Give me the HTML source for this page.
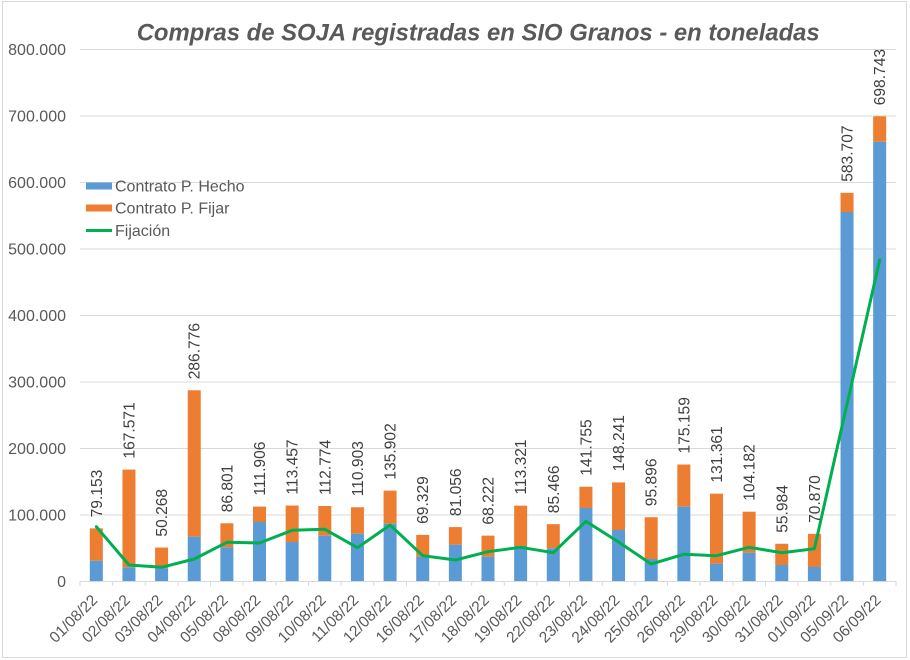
<!DOCTYPE html>
<html><head><meta charset="utf-8"><style>
html,body{margin:0;padding:0;background:#fff;}
svg{display:block;}
text{font-family:"Liberation Sans",Arial,sans-serif;}
</style></head><body>
<svg width="910" height="660" viewBox="0 0 910 660" xmlns="http://www.w3.org/2000/svg">
<rect x="0" y="0" width="910" height="660" fill="#fff"/>
<rect x="2.5" y="1.5" width="904" height="656" fill="#fff" stroke="#d9d9d9" stroke-width="1"/>
<text x="136.7" y="40.7" font-size="24" font-weight="bold" font-style="italic" fill="#595959" textLength="683" lengthAdjust="spacingAndGlyphs">Compras de SOJA registradas en SIO Granos - en toneladas</text>
<g stroke="#d9d9d9" stroke-width="1">
<line x1="80" y1="49.5" x2="896" y2="49.5"/>
<line x1="80" y1="116" x2="896" y2="116"/>
<line x1="80" y1="182.5" x2="896" y2="182.5"/>
<line x1="80" y1="249" x2="896" y2="249"/>
<line x1="80" y1="315.5" x2="896" y2="315.5"/>
<line x1="80" y1="382" x2="896" y2="382"/>
<line x1="80" y1="448.5" x2="896" y2="448.5"/>
<line x1="80" y1="515" x2="896" y2="515"/>
<line x1="80" y1="581.5" x2="896" y2="581.5"/>
</g>
<g stroke="#d9d9d9" stroke-width="1">
<line x1="80" y1="581" x2="80" y2="586"/><line x1="112.64" y1="581" x2="112.64" y2="586"/><line x1="145.28" y1="581" x2="145.28" y2="586"/><line x1="177.92" y1="581" x2="177.92" y2="586"/><line x1="210.56" y1="581" x2="210.56" y2="586"/><line x1="243.2" y1="581" x2="243.2" y2="586"/><line x1="275.84" y1="581" x2="275.84" y2="586"/><line x1="308.48" y1="581" x2="308.48" y2="586"/><line x1="341.12" y1="581" x2="341.12" y2="586"/><line x1="373.76" y1="581" x2="373.76" y2="586"/><line x1="406.4" y1="581" x2="406.4" y2="586"/><line x1="439.04" y1="581" x2="439.04" y2="586"/><line x1="471.68" y1="581" x2="471.68" y2="586"/><line x1="504.32" y1="581" x2="504.32" y2="586"/><line x1="536.96" y1="581" x2="536.96" y2="586"/><line x1="569.6" y1="581" x2="569.6" y2="586"/><line x1="602.24" y1="581" x2="602.24" y2="586"/><line x1="634.88" y1="581" x2="634.88" y2="586"/><line x1="667.52" y1="581" x2="667.52" y2="586"/><line x1="700.16" y1="581" x2="700.16" y2="586"/><line x1="732.8" y1="581" x2="732.8" y2="586"/><line x1="765.44" y1="581" x2="765.44" y2="586"/><line x1="798.08" y1="581" x2="798.08" y2="586"/><line x1="830.72" y1="581" x2="830.72" y2="586"/><line x1="863.36" y1="581" x2="863.36" y2="586"/><line x1="896" y1="581" x2="896" y2="586"/>
</g>
<g font-size="16" fill="#595959" text-anchor="end">
<text x="66" y="55">800.000</text>
<text x="66" y="121.5">700.000</text>
<text x="66" y="188">600.000</text>
<text x="66" y="254.5">500.000</text>
<text x="66" y="321">400.000</text>
<text x="66" y="387.5">300.000</text>
<text x="66" y="454">200.000</text>
<text x="66" y="520.5">100.000</text>
<text x="66" y="587">0</text>
</g>
<!-- bars -->
<g fill="#ed7d31">
<rect x="89.82" y="528.36" width="13" height="32.34"/>
<rect x="122.46" y="469.57" width="13" height="97.73"/>
<rect x="155.1" y="547.57" width="13" height="20.73"/>
<rect x="187.74" y="390.29" width="13" height="146.41"/>
<rect x="220.38" y="523.28" width="13" height="24.02"/>
<rect x="253.02" y="506.58" width="13" height="15.42"/>
<rect x="285.66" y="505.55" width="13" height="36.45"/>
<rect x="318.3" y="506" width="13" height="29.7"/>
<rect x="350.94" y="507.25" width="13" height="26.45"/>
<rect x="383.58" y="490.63" width="13" height="33.07"/>
<rect x="416.22" y="534.9" width="13" height="21.8"/>
<rect x="448.86" y="527.1" width="13" height="17.6"/>
<rect x="481.5" y="535.63" width="13" height="21.07"/>
<rect x="514.14" y="505.64" width="13" height="40.36"/>
<rect x="546.78" y="524.17" width="13" height="24.13"/>
<rect x="579.42" y="486.73" width="13" height="21.27"/>
<rect x="612.06" y="482.42" width="13" height="47.58"/>
<rect x="644.7" y="517.23" width="13" height="41.77"/>
<rect x="677.34" y="464.52" width="13" height="42.18"/>
<rect x="709.98" y="493.64" width="13" height="70.06"/>
<rect x="742.62" y="511.72" width="13" height="40.98"/>
<rect x="775.26" y="543.77" width="13" height="21.23"/>
<rect x="807.9" y="533.87" width="13" height="33.13"/>
<rect x="840.54" y="192.83" width="13" height="19.17"/>
<rect x="873.18" y="116.34" width="13" height="25.36"/>
</g>
<g fill="#5b9bd5">
<rect x="89.82" y="560.7" width="13" height="20.3"/>
<rect x="122.46" y="567.3" width="13" height="13.7"/>
<rect x="155.1" y="568.3" width="13" height="12.7"/>
<rect x="187.74" y="536.7" width="13" height="44.3"/>
<rect x="220.38" y="547.3" width="13" height="33.7"/>
<rect x="253.02" y="522" width="13" height="59"/>
<rect x="285.66" y="542" width="13" height="39"/>
<rect x="318.3" y="535.7" width="13" height="45.3"/>
<rect x="350.94" y="533.7" width="13" height="47.3"/>
<rect x="383.58" y="523.7" width="13" height="57.3"/>
<rect x="416.22" y="556.7" width="13" height="24.3"/>
<rect x="448.86" y="544.7" width="13" height="36.3"/>
<rect x="481.5" y="556.7" width="13" height="24.3"/>
<rect x="514.14" y="546" width="13" height="35"/>
<rect x="546.78" y="548.3" width="13" height="32.7"/>
<rect x="579.42" y="508" width="13" height="73"/>
<rect x="612.06" y="530" width="13" height="51"/>
<rect x="644.7" y="559" width="13" height="22"/>
<rect x="677.34" y="506.7" width="13" height="74.3"/>
<rect x="709.98" y="563.7" width="13" height="17.3"/>
<rect x="742.62" y="552.7" width="13" height="28.3"/>
<rect x="775.26" y="565" width="13" height="16"/>
<rect x="807.9" y="567" width="13" height="14"/>
<rect x="840.54" y="212" width="13" height="369"/>
<rect x="873.18" y="141.7" width="13" height="439.3"/>
</g>
<polyline fill="none" stroke="#00b050" stroke-width="3" stroke-linejoin="round" stroke-linecap="round" points="96.32,526.7 128.96,565 161.6,567.3 194.24,559 226.88,542.3 259.52,543 292.16,530.3 324.8,529.3 357.44,547.7 390.08,525 422.72,555.7 455.36,560 488,551.7 520.64,547.3 553.28,552.7 585.92,521.3 618.56,542 651.2,564 683.84,554.3 716.48,555.7 749.12,547.3 781.76,552.7 814.4,548.7 847.04,404 879.68,260"/>
<!-- data labels -->
<g font-size="15.6" fill="#404040">
<text transform="translate(101.82,517.4) rotate(-90)">79.153</text>
<text transform="translate(134.46,458.6) rotate(-90)">167.571</text>
<text transform="translate(167.1,536.6) rotate(-90)">50.268</text>
<text transform="translate(199.74,379.3) rotate(-90)">286.776</text>
<text transform="translate(232.38,512.3) rotate(-90)">86.801</text>
<text transform="translate(265.02,495.6) rotate(-90)">111.906</text>
<text transform="translate(297.66,494.6) rotate(-90)">113.457</text>
<text transform="translate(330.3,495) rotate(-90)">112.774</text>
<text transform="translate(362.94,496.3) rotate(-90)">110.903</text>
<text transform="translate(395.58,479.6) rotate(-90)">135.902</text>
<text transform="translate(428.22,523.9) rotate(-90)">69.329</text>
<text transform="translate(460.86,516.1) rotate(-90)">81.056</text>
<text transform="translate(493.5,524.6) rotate(-90)">68.222</text>
<text transform="translate(526.14,494.6) rotate(-90)">113.321</text>
<text transform="translate(558.78,513.2) rotate(-90)">85.466</text>
<text transform="translate(591.42,475.7) rotate(-90)">141.755</text>
<text transform="translate(624.06,471.4) rotate(-90)">148.241</text>
<text transform="translate(656.7,506.2) rotate(-90)">95.896</text>
<text transform="translate(689.34,453.5) rotate(-90)">175.159</text>
<text transform="translate(721.98,482.6) rotate(-90)">131.361</text>
<text transform="translate(754.62,500.7) rotate(-90)">104.182</text>
<text transform="translate(787.26,532.8) rotate(-90)">55.984</text>
<text transform="translate(819.9,522.9) rotate(-90)">70.870</text>
<text transform="translate(852.54,181.8) rotate(-90)">583.707</text>
<text transform="translate(885.18,105.3) rotate(-90)">698.743</text>
</g>
<!-- x labels -->
<g font-size="15.5" fill="#595959" text-anchor="end">
<text transform="translate(98.32,601) rotate(-45)">01/08/22</text>
<text transform="translate(130.96,601) rotate(-45)">02/08/22</text>
<text transform="translate(163.6,601) rotate(-45)">03/08/22</text>
<text transform="translate(196.24,601) rotate(-45)">04/08/22</text>
<text transform="translate(228.88,601) rotate(-45)">05/08/22</text>
<text transform="translate(261.52,601) rotate(-45)">08/08/22</text>
<text transform="translate(294.16,601) rotate(-45)">09/08/22</text>
<text transform="translate(326.8,601) rotate(-45)">10/08/22</text>
<text transform="translate(359.44,601) rotate(-45)">11/08/22</text>
<text transform="translate(392.08,601) rotate(-45)">12/08/22</text>
<text transform="translate(424.72,601) rotate(-45)">16/08/22</text>
<text transform="translate(457.36,601) rotate(-45)">17/08/22</text>
<text transform="translate(490,601) rotate(-45)">18/08/22</text>
<text transform="translate(522.64,601) rotate(-45)">19/08/22</text>
<text transform="translate(555.28,601) rotate(-45)">22/08/22</text>
<text transform="translate(587.92,601) rotate(-45)">23/08/22</text>
<text transform="translate(620.56,601) rotate(-45)">24/08/22</text>
<text transform="translate(653.2,601) rotate(-45)">25/08/22</text>
<text transform="translate(685.84,601) rotate(-45)">26/08/22</text>
<text transform="translate(718.48,601) rotate(-45)">29/08/22</text>
<text transform="translate(751.12,601) rotate(-45)">30/08/22</text>
<text transform="translate(783.76,601) rotate(-45)">31/08/22</text>
<text transform="translate(816.4,601) rotate(-45)">01/09/22</text>
<text transform="translate(849.04,601) rotate(-45)">05/09/22</text>
<text transform="translate(881.68,601) rotate(-45)">06/09/22</text>
</g>
<!-- legend -->
<rect x="86" y="182.5" width="26" height="7" fill="#5b9bd5"/>
<rect x="86" y="204.5" width="26" height="7" fill="#ed7d31"/>
<line x1="86" y1="230.5" x2="112" y2="230.5" stroke="#00b050" stroke-width="3"/>
<g font-size="16" fill="#595959">
<text x="115" y="191.5">Contrato P. Hecho</text>
<text x="115" y="213.5">Contrato P. Fijar</text>
<text x="115" y="236">Fijación</text>
</g>
</svg>
</body></html>
